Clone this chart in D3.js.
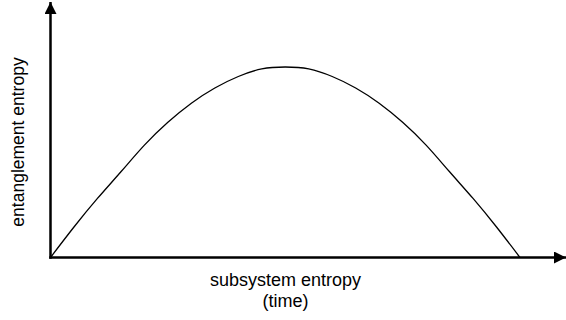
<!DOCTYPE html>
<html>
<head>
<meta charset="utf-8">
<script src="https://cdn.jsdelivr.net/npm/d3@7"></script>
<style>
  html, body { margin: 0; padding: 0; background: #fff; }
  svg { display: block; }
  text { font-family: "Liberation Sans", Arial, Helvetica, sans-serif; fill: #000; }
</style>
</head>
<body>
<svg id="chart" width="566" height="320"></svg>
<script>
// Data (normalized subsystem entropy vs entanglement entropy)
const xValues = [0, 0.05, 0.10, 0.15, 0.20, 0.25, 0.30, 0.35, 0.40, 0.45, 0.50, 0.55, 0.60, 0.65, 0.70, 0.75, 0.80, 0.85, 0.90, 0.95, 1.0];
const yValues = [0, 0.16, 0.31, 0.45, 0.59, 0.71, 0.81, 0.89, 0.95, 0.99, 1.0, 0.99, 0.95, 0.89, 0.81, 0.71, 0.59, 0.45, 0.31, 0.16, 0];
const xLabel = ["subsystem entropy", "(time)"];
const yLabel = "entanglement entropy";

const svg = d3.select("#chart");
const originX = 50.5, originY = 257.5;

const x = d3.scaleLinear().domain([0, 1]).range([originX, 520]);
const y = d3.scaleLinear().domain([0, 1]).range([originY, 67]);

// arrow marker
svg.append("defs").append("marker")
  .attr("id", "arrow")
  .attr("viewBox", "0 0 10 10")
  .attr("refX", 10).attr("refY", 5)
  .attr("markerUnits", "userSpaceOnUse")
  .attr("markerWidth", 14).attr("markerHeight", 12)
  .attr("orient", "auto")
  .append("path")
  .attr("d", "M0,0 L10,5 L0,10 Z")
  .attr("fill", "#000");

// curve
const line = d3.line()
  .x((d, i) => x(xValues[i]))
  .y(d => y(d))
  .curve(d3.curveNatural);

svg.append("path")
  .datum(yValues)
  .attr("d", line)
  .attr("fill", "none")
  .attr("stroke", "#000")
  .attr("stroke-width", 1.3);

// axes
svg.append("line")
  .attr("x1", originX - 1.25).attr("y1", originY)
  .attr("x2", 566).attr("y2", originY)
  .attr("stroke", "#000").attr("stroke-width", 2.5)
  .attr("marker-end", "url(#arrow)");

svg.append("line")
  .attr("x1", originX).attr("y1", originY + 1.25)
  .attr("x2", originX).attr("y2", 2)
  .attr("stroke", "#000").attr("stroke-width", 2.5)
  .attr("marker-end", "url(#arrow)");

// labels
svg.append("text")
  .attr("x", 285.5).attr("y", 286)
  .attr("text-anchor", "middle")
  .attr("font-size", 18)
  .text(xLabel[0]);
svg.append("text")
  .attr("x", 285.5).attr("y", 307)
  .attr("text-anchor", "middle")
  .attr("font-size", 18)
  .text(xLabel[1]);

svg.append("text")
  .attr("transform", "translate(24,142) rotate(-90)")
  .attr("text-anchor", "middle")
  .attr("font-size", 17.5)
  .text(yLabel);
</script>
</body>
</html>
